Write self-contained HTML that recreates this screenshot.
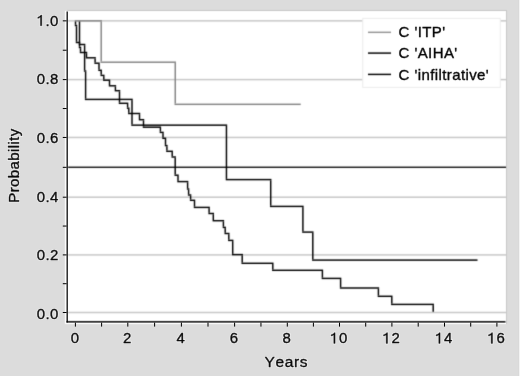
<!DOCTYPE html>
<html><head><meta charset="utf-8"><style>
html,body{margin:0;padding:0;background:#dcdcdc;}
svg{display:block;will-change:transform;}
.t{font-family:"Liberation Sans",sans-serif;font-size:15px;fill:#000000;stroke:#000000;stroke-width:0.35px;}
.h{font-family:"Liberation Sans",sans-serif;font-size:15px;fill:#fff;stroke:#fff;stroke-width:2.0px;stroke-linejoin:round;opacity:0.8;}
</style></head><body>
<svg width="520" height="376" viewBox="0 0 520 376">
<defs><filter id="b" filterUnits="userSpaceOnUse" x="0" y="0" width="520" height="376" color-interpolation-filters="sRGB"><feConvolveMatrix order="3" kernelMatrix="0.01917 0.10012 0.01917 0.10012 0.52283 0.10012 0.01917 0.10012 0.01917" divisor="1" edgeMode="duplicate" preserveAlpha="true"/></filter><filter id="b2" filterUnits="userSpaceOnUse" x="0" y="0" width="520" height="376" color-interpolation-filters="sRGB"><feConvolveMatrix order="3" kernelMatrix="0.00163 0.03713 0.00163 0.03713 0.84497 0.03713 0.00163 0.03713 0.00163" divisor="1" edgeMode="none" preserveAlpha="false"/></filter></defs>
<g filter="url(#b)">
<rect x="0" y="0" width="520" height="376" fill="#dcdcdc"/>
<rect x="65" y="11" width="441" height="313" fill="#ffffff"/>
<rect x="67" y="10" width="440" height="1" fill="#c6c6c6"/>
<rect x="506" y="10" width="1" height="314" fill="#c8c8c8"/>
<rect x="68" y="20.1" width="438" height="1.5" fill="#c8c8c8"/>
<rect x="68" y="78.85" width="438" height="1.5" fill="#c8c8c8"/>
<rect x="68" y="136.7" width="438" height="1.5" fill="#c8c8c8"/>
<rect x="68" y="196.45" width="438" height="1.5" fill="#c8c8c8"/>
<rect x="68" y="254.15" width="438" height="1.5" fill="#c8c8c8"/>
<rect x="68" y="311.75" width="438" height="1.5" fill="#c8c8c8"/>
<rect x="68" y="166.6" width="438" height="1.3" fill="#000000"/>
<rect x="74.775" y="20.125" width="27.15" height="1.45" fill="#838383"/>
<rect x="100.475" y="21.575" width="1.45" height="39.9" fill="#838383"/>
<rect x="100.475" y="61.475" width="75.5" height="1.45" fill="#838383"/>
<rect x="174.525" y="62.925" width="1.45" height="40.68" fill="#838383"/>
<rect x="174.525" y="103.605" width="126.2" height="1.45" fill="#838383"/>
<rect x="78.775" y="21.575" width="1.45" height="22.2" fill="#000000"/>
<rect x="78.775" y="43.775" width="6.55" height="1.45" fill="#000000"/>
<rect x="83.875" y="45.225" width="1.45" height="25.05" fill="#000000"/>
<rect x="83.875" y="70.275" width="2.45" height="1.45" fill="#000000"/>
<rect x="84.875" y="71.725" width="1.45" height="26.95" fill="#000000"/>
<rect x="84.875" y="98.675" width="47.85" height="1.45" fill="#000000"/>
<rect x="131.275" y="100.125" width="1.45" height="24.3" fill="#000000"/>
<rect x="131.275" y="124.425" width="95.9" height="1.45" fill="#000000"/>
<rect x="225.725" y="125.875" width="1.45" height="53" fill="#000000"/>
<rect x="225.725" y="178.875" width="45.7" height="1.45" fill="#000000"/>
<rect x="269.975" y="180.325" width="1.45" height="25.35" fill="#000000"/>
<rect x="269.975" y="205.675" width="33.65" height="1.45" fill="#000000"/>
<rect x="302.175" y="207.125" width="1.45" height="24.25" fill="#000000"/>
<rect x="302.175" y="231.375" width="11.35" height="1.45" fill="#000000"/>
<rect x="312.075" y="232.825" width="1.45" height="26.55" fill="#000000"/>
<rect x="312.075" y="259.375" width="165.45" height="1.45" fill="#000000"/>
<rect x="74.775" y="21.575" width="1.45" height="3.2" fill="#000000"/>
<rect x="74.775" y="24.775" width="2.45" height="1.45" fill="#000000"/>
<rect x="75.775" y="26.225" width="1.45" height="15.55" fill="#000000"/>
<rect x="75.775" y="41.775" width="4.45" height="1.45" fill="#000000"/>
<rect x="78.775" y="43.225" width="1.45" height="3.55" fill="#000000"/>
<rect x="78.775" y="46.775" width="2.45" height="1.45" fill="#000000"/>
<rect x="79.775" y="48.225" width="1.45" height="3.55" fill="#000000"/>
<rect x="79.775" y="51.775" width="7.45" height="1.45" fill="#000000"/>
<rect x="85.775" y="53.225" width="1.45" height="3.85" fill="#000000"/>
<rect x="85.775" y="57.075" width="10.05" height="1.45" fill="#000000"/>
<rect x="94.375" y="58.525" width="1.45" height="3.95" fill="#000000"/>
<rect x="94.375" y="62.475" width="5.35" height="1.45" fill="#000000"/>
<rect x="98.275" y="63.925" width="1.45" height="5.65" fill="#000000"/>
<rect x="98.275" y="69.575" width="3.65" height="1.45" fill="#000000"/>
<rect x="100.475" y="71.025" width="1.45" height="3.65" fill="#000000"/>
<rect x="100.475" y="74.675" width="4.05" height="1.45" fill="#000000"/>
<rect x="103.075" y="76.125" width="1.45" height="3.35" fill="#000000"/>
<rect x="103.075" y="79.475" width="7.15" height="1.45" fill="#000000"/>
<rect x="108.775" y="80.925" width="1.45" height="4.15" fill="#000000"/>
<rect x="108.775" y="85.075" width="7.35" height="1.45" fill="#000000"/>
<rect x="114.675" y="86.525" width="1.45" height="3.45" fill="#000000"/>
<rect x="114.675" y="89.975" width="5.55" height="1.45" fill="#000000"/>
<rect x="118.775" y="91.425" width="1.45" height="11.15" fill="#000000"/>
<rect x="118.775" y="102.575" width="9.55" height="1.45" fill="#000000"/>
<rect x="126.875" y="104.025" width="1.45" height="3.45" fill="#000000"/>
<rect x="126.875" y="107.475" width="2.65" height="1.45" fill="#000000"/>
<rect x="128.075" y="108.925" width="1.45" height="3.85" fill="#000000"/>
<rect x="128.075" y="112.775" width="12.15" height="1.45" fill="#000000"/>
<rect x="138.775" y="114.225" width="1.45" height="4.75" fill="#000000"/>
<rect x="138.775" y="118.975" width="5.45" height="1.45" fill="#000000"/>
<rect x="142.775" y="120.425" width="1.45" height="6.05" fill="#000000"/>
<rect x="142.775" y="126.475" width="18.35" height="1.45" fill="#000000"/>
<rect x="159.675" y="127.925" width="1.45" height="3.75" fill="#000000"/>
<rect x="159.675" y="131.675" width="4.05" height="1.45" fill="#000000"/>
<rect x="162.275" y="133.125" width="1.45" height="4.45" fill="#000000"/>
<rect x="162.275" y="137.575" width="3.95" height="1.45" fill="#000000"/>
<rect x="164.775" y="139.025" width="1.45" height="5.85" fill="#000000"/>
<rect x="164.775" y="144.875" width="2.85" height="1.45" fill="#000000"/>
<rect x="166.175" y="146.325" width="1.45" height="4.25" fill="#000000"/>
<rect x="166.175" y="150.575" width="6.75" height="1.45" fill="#000000"/>
<rect x="171.475" y="152.025" width="1.45" height="4.25" fill="#000000"/>
<rect x="171.475" y="156.275" width="4.45" height="1.45" fill="#000000"/>
<rect x="174.475" y="157.725" width="1.45" height="16.75" fill="#000000"/>
<rect x="174.475" y="174.475" width="4.25" height="1.45" fill="#000000"/>
<rect x="177.275" y="175.925" width="1.45" height="4.95" fill="#000000"/>
<rect x="177.275" y="180.875" width="11.05" height="1.45" fill="#000000"/>
<rect x="186.875" y="182.325" width="1.45" height="5.95" fill="#000000"/>
<rect x="186.875" y="188.275" width="2.45" height="1.45" fill="#000000"/>
<rect x="187.875" y="189.725" width="1.45" height="4.55" fill="#000000"/>
<rect x="187.875" y="194.275" width="3.45" height="1.45" fill="#000000"/>
<rect x="189.875" y="195.725" width="1.45" height="3.85" fill="#000000"/>
<rect x="189.875" y="199.575" width="5.35" height="1.45" fill="#000000"/>
<rect x="193.775" y="201.025" width="1.45" height="5.65" fill="#000000"/>
<rect x="193.775" y="206.675" width="16.05" height="1.45" fill="#000000"/>
<rect x="208.375" y="208.125" width="1.45" height="4.65" fill="#000000"/>
<rect x="208.375" y="212.775" width="5.65" height="1.45" fill="#000000"/>
<rect x="212.575" y="214.225" width="1.45" height="5.75" fill="#000000"/>
<rect x="212.575" y="219.975" width="11.55" height="1.45" fill="#000000"/>
<rect x="222.675" y="221.425" width="1.45" height="5.25" fill="#000000"/>
<rect x="222.675" y="226.675" width="3.25" height="1.45" fill="#000000"/>
<rect x="224.475" y="228.125" width="1.45" height="4.65" fill="#000000"/>
<rect x="224.475" y="232.775" width="5.05" height="1.45" fill="#000000"/>
<rect x="228.075" y="234.225" width="1.45" height="5.45" fill="#000000"/>
<rect x="228.075" y="239.675" width="5.35" height="1.45" fill="#000000"/>
<rect x="231.975" y="241.125" width="1.45" height="12.75" fill="#000000"/>
<rect x="231.975" y="253.875" width="10.95" height="1.45" fill="#000000"/>
<rect x="241.475" y="255.325" width="1.45" height="7.25" fill="#000000"/>
<rect x="241.475" y="262.575" width="32.05" height="1.45" fill="#000000"/>
<rect x="272.075" y="264.025" width="1.45" height="5.55" fill="#000000"/>
<rect x="272.075" y="269.575" width="51.05" height="1.45" fill="#000000"/>
<rect x="321.675" y="271.025" width="1.45" height="6.65" fill="#000000"/>
<rect x="321.675" y="277.675" width="19.65" height="1.45" fill="#000000"/>
<rect x="339.875" y="279.125" width="1.45" height="8.15" fill="#000000"/>
<rect x="339.875" y="287.275" width="39.25" height="1.45" fill="#000000"/>
<rect x="377.675" y="288.725" width="1.45" height="6.85" fill="#000000"/>
<rect x="377.675" y="295.575" width="14.85" height="1.45" fill="#000000"/>
<rect x="391.075" y="297.025" width="1.45" height="6.65" fill="#000000"/>
<rect x="391.075" y="303.675" width="42.85" height="1.45" fill="#000000"/>
<rect x="432.475" y="305.125" width="1.45" height="6.65" fill="#000000"/>
<rect x="362.75" y="18.4" width="137.5" height="69" fill="#ffffff" stroke="#ececec" stroke-width="1"/>
<rect x="368" y="31.605" width="23" height="1.45" fill="#939393"/>
<rect x="368" y="52.375" width="23" height="1.45" fill="#000000"/>
<rect x="368" y="73.675" width="23" height="1.45" fill="#000000"/>
<rect x="66.4" y="321.1" width="439.1" height="1.5" fill="#000"/>
</g>
<rect x="65" y="11" width="1" height="312.5" fill="#fcfcfc"/>
<rect x="65" y="323" width="441" height="1" fill="#f8f8f8"/>
<rect x="66.55" y="11.5" width="1.25" height="311" fill="#000"/>
<rect x="62.8" y="312" width="3.8" height="1" fill="#000"/>
<rect x="62.8" y="283.2" width="3.8" height="1" fill="#000"/>
<rect x="62.8" y="254.4" width="3.8" height="1" fill="#000"/>
<rect x="62.8" y="225.55" width="3.8" height="1" fill="#000"/>
<rect x="62.8" y="196.7" width="3.8" height="1" fill="#000"/>
<rect x="62.8" y="166.825" width="3.8" height="1" fill="#000"/>
<rect x="62.8" y="136.95" width="3.8" height="1" fill="#000"/>
<rect x="62.8" y="108.025" width="3.8" height="1" fill="#000"/>
<rect x="62.8" y="79.1" width="3.8" height="1" fill="#000"/>
<rect x="62.8" y="49.725" width="3.8" height="1" fill="#000"/>
<rect x="62.8" y="20.35" width="3.8" height="1" fill="#000"/>
<rect x="74.9" y="322.6" width="1" height="4" fill="#000"/>
<rect x="101.1" y="322.6" width="1" height="4" fill="#000"/>
<rect x="127.3" y="322.6" width="1" height="4" fill="#000"/>
<rect x="154.1" y="322.6" width="1" height="4" fill="#000"/>
<rect x="180.9" y="322.6" width="1" height="4" fill="#000"/>
<rect x="207.5" y="322.6" width="1" height="4" fill="#000"/>
<rect x="234.1" y="322.6" width="1" height="4" fill="#000"/>
<rect x="260.45" y="322.6" width="1" height="4" fill="#000"/>
<rect x="286.8" y="322.6" width="1" height="4" fill="#000"/>
<rect x="312.9" y="322.6" width="1" height="4" fill="#000"/>
<rect x="339" y="322.6" width="1" height="4" fill="#000"/>
<rect x="365.2" y="322.6" width="1" height="4" fill="#000"/>
<rect x="391.4" y="322.6" width="1" height="4" fill="#000"/>
<rect x="417.7" y="322.6" width="1" height="4" fill="#000"/>
<rect x="444" y="322.6" width="1" height="4" fill="#000"/>
<rect x="470.2" y="322.6" width="1" height="4" fill="#000"/>
<rect x="496.4" y="322.6" width="1" height="4" fill="#000"/>
<g filter="url(#b2)">
<text x="398.62 414.42 417.684 422.251 431.814 442.219" y="37.25" class="h" style="font-size:15.0px">C&#39;ITP&#39;</text>
<text x="398.62 414.42 417.684 422.251 431.814 442.219" y="37.25" class="t" style="font-size:15.0px">C&#39;ITP&#39;</text>
<text x="398.62 414.42 417.684 428.089 432.656 443.889 454.294" y="58.3" class="h" style="font-size:15.0px">C&#39;AIHA&#39;</text>
<text x="398.62 414.42 417.684 428.089 432.656 443.889 454.294" y="58.3" class="t" style="font-size:15.0px">C&#39;AIHA&#39;</text>
<text x="398.62 414.42 417.684 421.416 430.159 434.726 438.459 442.191 446.759 452.154 460.896 465.463 469.196 477.096 485.838" y="79.75" class="h" style="font-size:15.0px">C&#39;infiltrative&#39;</text>
<text x="398.62 414.42 417.684 421.416 430.159 434.726 438.459 442.191 446.759 452.154 460.896 465.463 469.196 477.096 485.838" y="79.75" class="t" style="font-size:15.0px">C&#39;infiltrative&#39;</text>
<g transform="translate(0,318.841) scale(1,1.035) translate(0,-318.841)">
<text x="36.88 45.542 50.03" y="318.841" class="h" style="font-size:15.0px">0.0</text>
<text x="36.88 45.542 50.03" y="318.841" class="t" style="font-size:15.0px">0.0</text>
</g>
<g transform="translate(0,260.241) scale(1,1.035) translate(0,-260.241)">
<text x="36.88 45.542 50.03" y="260.241" class="h" style="font-size:15.0px">0.2</text>
<text x="36.88 45.542 50.03" y="260.241" class="t" style="font-size:15.0px">0.2</text>
</g>
<g transform="translate(0,201.641) scale(1,1.035) translate(0,-201.641)">
<text x="36.88 45.542 50.03" y="201.641" class="h" style="font-size:15.0px">0.4</text>
<text x="36.88 45.542 50.03" y="201.641" class="t" style="font-size:15.0px">0.4</text>
</g>
<g transform="translate(0,143.041) scale(1,1.035) translate(0,-143.041)">
<text x="36.88 45.542 50.03" y="143.041" class="h" style="font-size:15.0px">0.6</text>
<text x="36.88 45.542 50.03" y="143.041" class="t" style="font-size:15.0px">0.6</text>
</g>
<g transform="translate(0,84.441) scale(1,1.035) translate(0,-84.441)">
<text x="36.88 45.542 50.03" y="84.441" class="h" style="font-size:15.0px">0.8</text>
<text x="36.88 45.542 50.03" y="84.441" class="t" style="font-size:15.0px">0.8</text>
</g>
<g transform="translate(0,25.841) scale(1,1.035) translate(0,-25.841)">
<text x="45.542 50.03" y="25.841" class="h" style="font-size:15.0px">.0</text>
<path d="M667,0 L667,1420 L550,1420 L504,1351 L444,1288 L344,1216 L127,1143 L127,972 L264,1023 L384,1085 L487,1150 L487,0 Z" transform="translate(36.88,25.841) scale(0.007324,-0.007324)" fill="#fff" stroke="#fff" stroke-width="273.1" stroke-linejoin="round" opacity="0.8"/><path d="M667,0 L667,1420 L550,1420 L504,1351 L444,1288 L344,1216 L127,1143 L127,972 L264,1023 L384,1085 L487,1150 L487,0 Z" transform="translate(36.88,25.841) scale(0.007324,-0.007324)" fill="#000000" stroke="#000000" stroke-width="47.8"/>
<text x="45.542 50.03" y="25.841" class="t" style="font-size:15.0px">.0</text>
</g>
<g transform="translate(0,343.4) scale(1,1.035) translate(0,-343.4)">
<text x="70.63" y="343.4" class="h" style="font-size:15.0px">0</text>
<text x="70.63" y="343.4" class="t" style="font-size:15.0px">0</text>
</g>
<g transform="translate(0,343.4) scale(1,1.035) translate(0,-343.4)">
<text x="123.03" y="343.4" class="h" style="font-size:15.0px">2</text>
<text x="123.03" y="343.4" class="t" style="font-size:15.0px">2</text>
</g>
<g transform="translate(0,343.4) scale(1,1.035) translate(0,-343.4)">
<text x="176.63" y="343.4" class="h" style="font-size:15.0px">4</text>
<text x="176.63" y="343.4" class="t" style="font-size:15.0px">4</text>
</g>
<g transform="translate(0,343.4) scale(1,1.035) translate(0,-343.4)">
<text x="229.83" y="343.4" class="h" style="font-size:15.0px">6</text>
<text x="229.83" y="343.4" class="t" style="font-size:15.0px">6</text>
</g>
<g transform="translate(0,343.4) scale(1,1.035) translate(0,-343.4)">
<text x="282.53" y="343.4" class="h" style="font-size:15.0px">8</text>
<text x="282.53" y="343.4" class="t" style="font-size:15.0px">8</text>
</g>
<g transform="translate(0,343.4) scale(1,1.035) translate(0,-343.4)">
<path d="M667,0 L667,1420 L550,1420 L504,1351 L444,1288 L344,1216 L127,1143 L127,972 L264,1023 L384,1085 L487,1150 L487,0 Z" transform="translate(330.22,343.4) scale(0.007324,-0.007324)" fill="#fff" stroke="#fff" stroke-width="273.1" stroke-linejoin="round" opacity="0.8"/><path d="M667,0 L667,1420 L550,1420 L504,1351 L444,1288 L344,1216 L127,1143 L127,972 L264,1023 L384,1085 L487,1150 L487,0 Z" transform="translate(330.22,343.4) scale(0.007324,-0.007324)" fill="#000000" stroke="#000000" stroke-width="47.8"/>
</g>
<g transform="translate(0,343.4) scale(1,1.035) translate(0,-343.4)">
<text x="339.03" y="343.4" class="h" style="font-size:15.0px">0</text>
<text x="339.03" y="343.4" class="t" style="font-size:15.0px">0</text>
</g>
<g transform="translate(0,343.4) scale(1,1.035) translate(0,-343.4)">
<path d="M667,0 L667,1420 L550,1420 L504,1351 L444,1288 L344,1216 L127,1143 L127,972 L264,1023 L384,1085 L487,1150 L487,0 Z" transform="translate(382.62,343.4) scale(0.007324,-0.007324)" fill="#fff" stroke="#fff" stroke-width="273.1" stroke-linejoin="round" opacity="0.8"/><path d="M667,0 L667,1420 L550,1420 L504,1351 L444,1288 L344,1216 L127,1143 L127,972 L264,1023 L384,1085 L487,1150 L487,0 Z" transform="translate(382.62,343.4) scale(0.007324,-0.007324)" fill="#000000" stroke="#000000" stroke-width="47.8"/>
</g>
<g transform="translate(0,343.4) scale(1,1.035) translate(0,-343.4)">
<text x="391.43" y="343.4" class="h" style="font-size:15.0px">2</text>
<text x="391.43" y="343.4" class="t" style="font-size:15.0px">2</text>
</g>
<g transform="translate(0,343.4) scale(1,1.035) translate(0,-343.4)">
<path d="M667,0 L667,1420 L550,1420 L504,1351 L444,1288 L344,1216 L127,1143 L127,972 L264,1023 L384,1085 L487,1150 L487,0 Z" transform="translate(435.22,343.4) scale(0.007324,-0.007324)" fill="#fff" stroke="#fff" stroke-width="273.1" stroke-linejoin="round" opacity="0.8"/><path d="M667,0 L667,1420 L550,1420 L504,1351 L444,1288 L344,1216 L127,1143 L127,972 L264,1023 L384,1085 L487,1150 L487,0 Z" transform="translate(435.22,343.4) scale(0.007324,-0.007324)" fill="#000000" stroke="#000000" stroke-width="47.8"/>
</g>
<g transform="translate(0,343.4) scale(1,1.035) translate(0,-343.4)">
<text x="444.03" y="343.4" class="h" style="font-size:15.0px">4</text>
<text x="444.03" y="343.4" class="t" style="font-size:15.0px">4</text>
</g>
<g transform="translate(0,343.4) scale(1,1.035) translate(0,-343.4)">
<path d="M667,0 L667,1420 L550,1420 L504,1351 L444,1288 L344,1216 L127,1143 L127,972 L264,1023 L384,1085 L487,1150 L487,0 Z" transform="translate(487.62,343.4) scale(0.007324,-0.007324)" fill="#fff" stroke="#fff" stroke-width="273.1" stroke-linejoin="round" opacity="0.8"/><path d="M667,0 L667,1420 L550,1420 L504,1351 L444,1288 L344,1216 L127,1143 L127,972 L264,1023 L384,1085 L487,1150 L487,0 Z" transform="translate(487.62,343.4) scale(0.007324,-0.007324)" fill="#000000" stroke="#000000" stroke-width="47.8"/>
</g>
<g transform="translate(0,343.4) scale(1,1.035) translate(0,-343.4)">
<text x="496.43" y="343.4" class="h" style="font-size:15.0px">6</text>
<text x="496.43" y="343.4" class="t" style="font-size:15.0px">6</text>
</g>
<text x="264.59 275.548 284.789 294.029 299.811" y="367.2" class="h" style="font-size:15.5px">Years</text>
<text x="264.59 275.548 284.789 294.029 299.811" y="367.2" class="t" style="font-size:15.5px">Years</text>
<g transform="translate(18.5,165.75) rotate(-90)">
<text x="-36.917 -26.532 -21.157 -12.435 -3.713 5.01 13.732 17.445 21.157 24.87 29.417" y="0" class="h" style="font-size:15.0px">Probability</text>
<text x="-36.917 -26.532 -21.157 -12.435 -3.713 5.01 13.732 17.445 21.157 24.87 29.417" y="0" class="t" style="font-size:15.0px">Probability</text>
</g>
</g>
<rect x="518" y="0" width="1" height="376" fill="#d9d9d9"/>
<rect x="519" y="0" width="1" height="376" fill="#f3f3f3"/>
</svg>
</body></html>
